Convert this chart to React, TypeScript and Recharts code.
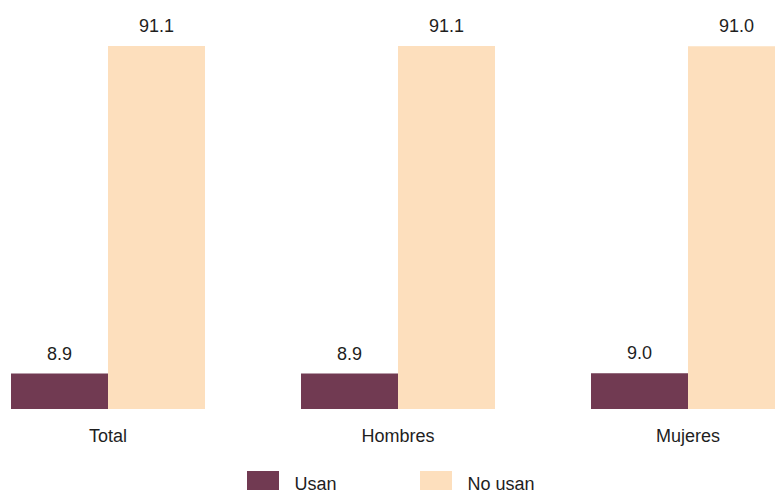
import React from 'react'
import { BarChart, Bar, XAxis, YAxis, Legend, LabelList } from 'recharts'

const categories = ['Total', 'Hombres', 'Mujeres']
const seriesNames = ['Usan', 'No usan']
const usan = [8.9, 8.9, 9.0]
const noUsan = [91.1, 91.1, 91.0]

const data = categories.map((name, i) => ({ name, usan: usan[i], noUsan: noUsan[i] }))

const FONT = '"Liberation Sans", Arial, sans-serif'
const TEXT = '#1e1e1e'

function renderLegend(props: any) {
  const payload = [...(props.payload || [])].sort(
    (a: any, b: any) => seriesNames.indexOf(a.value) - seriesNames.indexOf(b.value)
  )
  return (
    <div style={{ display: 'flex', justifyContent: 'center', gap: 84, fontFamily: FONT, fontSize: 18, color: TEXT, position: 'relative', left: -7 }}>
      {payload.map((entry: any) => (
        <div key={entry.value} style={{ display: 'flex', alignItems: 'flex-start' }}>
          <span style={{ width: 32, height: 20, background: entry.color, display: 'inline-block', marginRight: 15, marginTop: 1 }} />
          <span style={{ lineHeight: '22px', marginTop: 3 }}>{entry.value}</span>
        </div>
      ))}
    </div>
  )
}

export default function App() {
  return (
    <div style={{ position: 'fixed', left: 0, top: 0, width: 775, height: 490, overflow: 'hidden', background: '#fff' }}>
      <div style={{ position: 'absolute', left: -37, top: 0 }}>
        <BarChart
          width={870}
          height={500}
          data={data}
          margin={{ top: 10.5, right: 0, left: 0, bottom: 0 }}
          barCategoryGap={48}
          barGap={0}
        >
          <XAxis
            dataKey="name"
            axisLine={false}
            tickLine={false}
            height={61}
            tickMargin={14}
            tick={{ fontFamily: FONT, fontSize: 18, fill: TEXT }}
          />
          <YAxis hide domain={[0, 100]} />
          <Legend verticalAlign="bottom" height={30} content={renderLegend} />
          <Bar dataKey="usan" name="Usan" fill="#713a52" isAnimationActive={false}>
            <LabelList dataKey="usan" position="top" offset={14} formatter={(v: any) => Number(v).toFixed(1)} style={{ fontFamily: FONT, fontSize: 18, fill: TEXT }} />
          </Bar>
          <Bar dataKey="noUsan" name="No usan" fill="#fddfbd" isAnimationActive={false}>
            <LabelList dataKey="noUsan" position="top" offset={14} formatter={(v: any) => Number(v).toFixed(1)} style={{ fontFamily: FONT, fontSize: 18, fill: TEXT }} />
          </Bar>
        </BarChart>
      </div>
    </div>
  )
}
